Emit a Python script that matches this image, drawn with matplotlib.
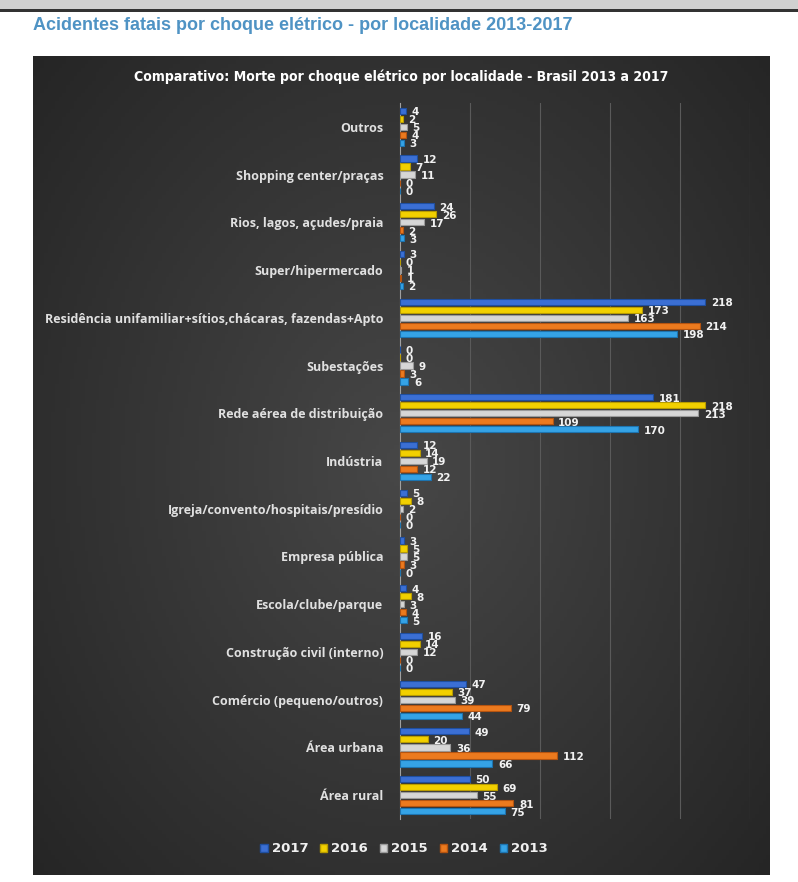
import matplotlib.pyplot as plt
import matplotlib.patches as mpatches
import numpy as np

# categories top to bottom
categories = ['Outros', 'Shopping center/praças', 'Rios, lagos, açudes/praia', 'Super/hipermercado',
              'Residência unifamiliar+sítios,chácaras, fazendas+Apto', 'Subestações',
              'Rede aérea de distribuição', 'Indústria', 'Igreja/convento/hospitais/presídio',
              'Empresa pública', 'Escola/clube/parque', 'Construção civil (interno)',
              'Comércio (pequeno/outros)', 'Área urbana', 'Área rural']
years = ['2017', '2016', '2015', '2014', '2013']
v2017 = [4, 12, 24, 3, 218, 0, 181, 12, 5, 3, 4, 16, 47, 49, 50]
v2016 = [2, 7, 26, 0, 173, 0, 218, 14, 8, 5, 8, 14, 37, 20, 69]
v2015 = [5, 11, 17, 1, 163, 9, 213, 19, 2, 5, 3, 12, 39, 36, 55]
v2014 = [4, 0, 2, 1, 214, 3, 109, 12, 0, 3, 4, 0, 79, 112, 81]
v2013 = [3, 0, 3, 2, 198, 6, 170, 22, 0, 0, 5, 0, 44, 66, 75]
series = [v2017, v2016, v2015, v2014, v2013]
colors = ['#3b6fd4', '#f2d000', '#d6d6d6', '#ec7a1e', '#35a3e6']
edges = ['#1f4fa0', '#b89c00', '#9a9a9a', '#b55410', '#1d74b0']

W, H = 798, 882
fig = plt.figure(figsize=(W / 100, H / 100), dpi=100)
fig.patch.set_facecolor('white')

# browser-ish strip at top
fig.add_artist(mpatches.Rectangle((0, 1 - 9 / H), 1, 9 / H, transform=fig.transFigure,
                                  facecolor='#d0d0d0', edgecolor='none'))
fig.add_artist(mpatches.Rectangle((0, 1 - 12 / H), 1, 3 / H, transform=fig.transFigure,
                                  facecolor='#333333', edgecolor='none'))
fig.text(33 / W, 1 - 25 / H, 'Acidentes fatais por choque elétrico - por localidade 2013-2017',
         color='#4f93c4', fontsize=13, fontweight='bold', family='Liberation Sans',
         va='center', ha='left')

# dark panel with soft radial gradient
px0, px1, py0, py1 = 33, 770, 56, 875
bg = fig.add_axes([px0 / W, 1 - py1 / H, (px1 - px0) / W, (py1 - py0) / H], zorder=0)
yy, xx = np.mgrid[-1:1:200j, -1:1:200j]
r = np.sqrt(xx ** 2 + (yy * 0.9) ** 2)
grad = np.clip(1 - r / 1.4, 0, 1)
bg.imshow(grad, cmap=plt.matplotlib.colors.LinearSegmentedColormap.from_list('g', ['#242424', '#474747']),
          aspect='auto', extent=[0, 1, 0, 1], vmin=0, vmax=1)
bg.set_axis_off()
fig.text((px0 + px1) / 2 / W, 1 - 77 / H,
         'Comparativo: Morte por choque elétrico por localidade - Brasil 2013 a 2017',
         color='white', fontsize=10.1, fontweight='bold', family='DejaVu Sans',
         fontstretch='condensed', ha='center', va='center', zorder=5)

ax = fig.add_axes([400 / W, 1 - 819 / H, 350 / W, (819 - 103) / H], zorder=2)
ax.patch.set_alpha(0)
n = len(categories)
y = np.arange(n)
pitch = 0.168
for j, vals in enumerate(series):
    pos = y + (j - 2) * pitch
    ax.barh(pos, vals, height=0.13, color=colors[j], edgecolor=edges[j], linewidth=0.8,
            label=years[j], zorder=3)
    for p, v in zip(pos, vals):
        ax.annotate(str(v), (v, p), xytext=(4, -1), textcoords='offset points',
                    color='#f2f2f2', fontsize=7.5, fontweight='bold', va='center', ha='left',
                    zorder=4)

ax.set_xlim(0, 250)
ax.set_ylim(n - 0.5, -0.5)
ax.set_xticks([50, 100, 150, 200, 250])
ax.grid(axis='x', color='#5a5a5a', linewidth=0.8, zorder=0)
ax.tick_params(axis='x', length=0, labelbottom=False)
ax.tick_params(axis='y', length=0, pad=12)
ax.set_yticks(y)
ax.set_yticklabels(categories, color='#e0e0e0', fontsize=9, fontweight='bold', family='Open Sans')
for s in ['top', 'right', 'bottom']:
    ax.spines[s].set_visible(False)
ax.spines['left'].set_color('#a0a0a0')

handles = [mpatches.Patch(facecolor=c, edgecolor=e, label=l) for c, e, l in zip(colors, edges, years)]
leg = fig.legend(handles=handles, loc='center', bbox_to_anchor=(404 / W, 1 - 849 / H), ncol=5,
                 frameon=False, handlelength=0.55, handleheight=0.55, handletextpad=0.3,
                 columnspacing=0.9, prop={'weight': 'bold', 'size': 9.5})
for t in leg.get_texts():
    t.set_color('#f0f0f0')

fig.savefig('out.png', dpi=100, facecolor=fig.get_facecolor())
